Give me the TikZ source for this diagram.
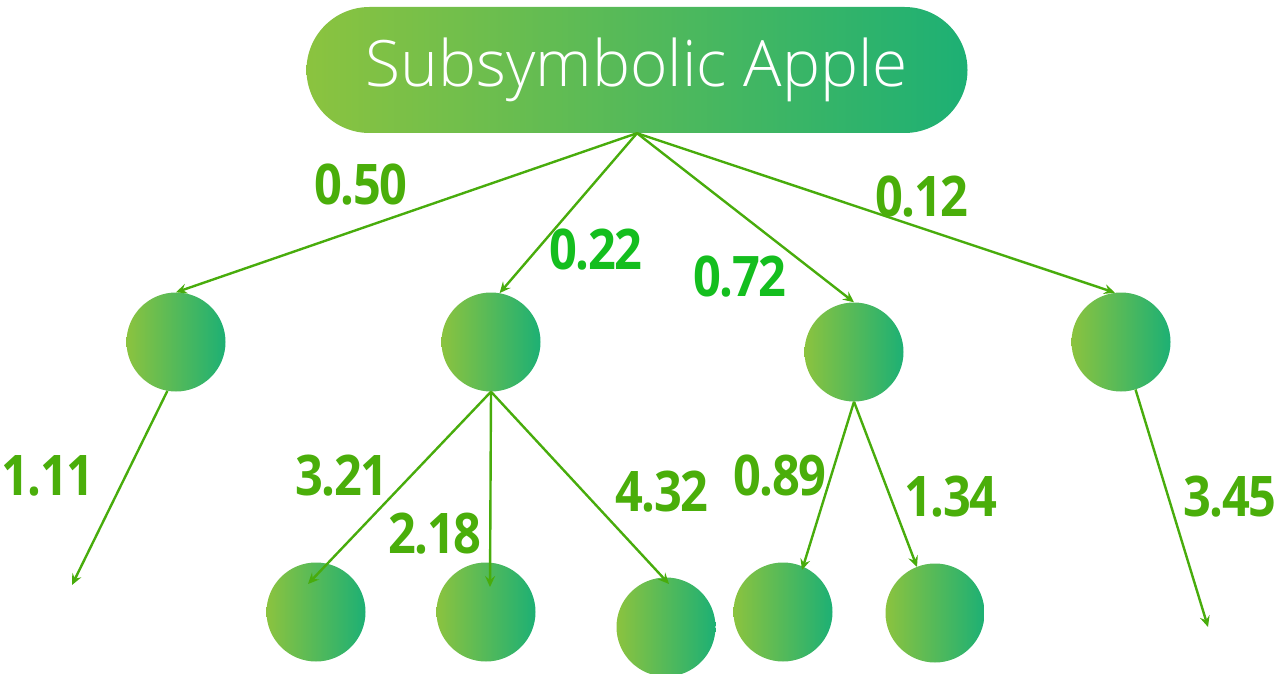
\documentclass[tikz,border=0pt]{standalone}
\usepackage{fontspec}
\usepackage{graphicx}
\usetikzlibrary{arrows.meta,calc}
\newfontfamily\titlefont{Open Sans Light}
\newfontfamily\numfont[LetterSpace=-3]{Open Sans}
\newcommand{\wtext}[1]{\scalebox{0.87}[1]{#1}}
\definecolor{gleft}{RGB}{139,195,63}
\definecolor{gright}{RGB}{29,176,116}
\definecolor{wgreen}{RGB}{74,174,10}
\definecolor{wbright}{RGB}{20,190,30}
\definecolor{edgegreen}{RGB}{72,172,12}
\begin{document}
\begin{tikzpicture}[x=1pt,y=-1pt,
  unit/.style={circle,minimum size=99pt,inner sep=0pt,left color=gleft,right color=gright,draw=none},
  pill/.style={rectangle,rounded corners=63pt,minimum width=661pt,minimum height=126pt,
    left color=gleft,right color=gright,draw=none,text=white,
    font=\titlefont\fontsize{64}{68}\selectfont},
  weight/.style={inner sep=0pt,text=wgreen,font=\numfont\bfseries\fontsize{56}{58}\selectfont},
  link/.style={draw=edgegreen,line width=2.4pt,-{Stealth[length=11pt,width=10pt,inset=4pt]}}]
\useasboundingbox (0,0) rectangle (1280,674);

% root concept
\node[pill] (root) at (637,70) {Subsymbolic Apple};

% first layer of units
\node[unit] (A) at (176,342) {};
\node[unit] (B) at (491,342) {};
\node[unit] (C) at (854,352) {};
\node[unit] (D) at (1121,342) {};

% second layer of units
\node[unit] (E) at (316,612) {};
\node[unit] (F) at (486,612) {};
\node[unit] (G) at (666,627) {};
\node[unit] (H) at (783,612) {};
\node[unit] (I) at (935,613) {};

% open ends
\coordinate (a1) at (72,585);
\coordinate (d1) at (1208,627);

% connections
\draw[link] (root.south) -- (A.north);
\draw[link] (root.south) -- (B.80);
\draw[link] (root.south) -- (C.north);
\draw[link] (root.south) -- (D.97);
\draw[link] (A.260) -- (a1);
\draw[link] (B.south) -- ($(E)+(-8,-28)$);
\draw[link] (B.south) -- ($(F)+(4,-25)$);
\draw[link] (B.south) -- ($(G)+(3,-43)$);
\draw[link] (C.south) -- ($(H)+(19,-42)$);
\draw[link] (C.south) -- ($(I)+(-18,-46)$);
\draw[link] (D.287) -- (d1);

% weights
\node[weight] (w1) at (361,185) {\wtext{0.50}};
\node[weight,text=wbright] (w2) at (596,250) {\wtext{0.22}};
\node[weight,text=wbright] (w3) at (740,277) {\wtext{0.72}};
\node[weight] (w4) at (922,197) {\wtext{0.12}};
\node[weight] (w5) at (48,476) {\wtext{1.11}};
\node[weight] (w6) at (342,476) {\wtext{3.21}};
\node[weight] (w7) at (435,534) {\wtext{2.18}};
\node[weight] (w8) at (662,492) {\wtext{4.32}};
\node[weight] (w9) at (780,476) {\wtext{0.89}};
\node[weight] (w10) at (951,497) {\wtext{1.34}};
\node[weight] (w11) at (1230,497) {\wtext{3.45}};
\end{tikzpicture}
\end{document}
